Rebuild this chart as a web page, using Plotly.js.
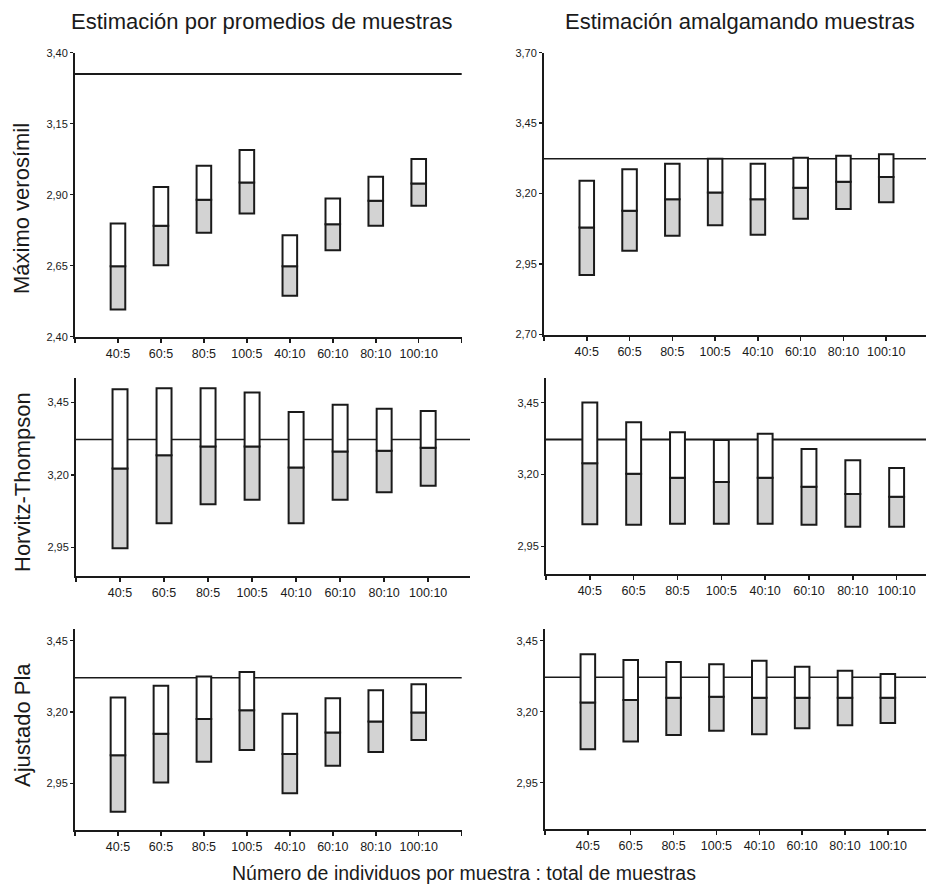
<!DOCTYPE html>
<html>
<head>
<meta charset="utf-8">
<script src="https://cdn.plot.ly/plotly-3.0.1.min.js"></script>
<style>
  html, body { margin: 0; padding: 0; background: #fff; }
  #chart { width: 926px; height: 886px; }
</style>
</head>
<body>
<div id="chart"></div>
<script>
// ---------- DATA ----------
const categories = ['40:5', '60:5', '80:5', '100:5', '40:10', '60:10', '80:10', '100:10'];

// Máximo verosímil – promedios de muestras
const mvPromMin = [2.496, 2.652, 2.766, 2.834, 2.544, 2.704, 2.791, 2.861];
const mvPromMed = [2.648, 2.791, 2.882, 2.943, 2.648, 2.796, 2.879, 2.939];
const mvPromMax = [2.799, 2.927, 3.002, 3.057, 2.757, 2.887, 2.963, 3.026];
// Máximo verosímil – amalgamando muestras
const mvAmalMin = [2.911, 2.997, 3.050, 3.088, 3.054, 3.111, 3.145, 3.169];
const mvAmalMed = [3.080, 3.139, 3.180, 3.204, 3.180, 3.221, 3.242, 3.259];
const mvAmalMax = [3.246, 3.286, 3.306, 3.324, 3.306, 3.327, 3.334, 3.340];
// Horvitz-Thompson – promedios
const htPromMin = [2.947, 3.033, 3.099, 3.114, 3.033, 3.114, 3.140, 3.163];
const htPromMed = [3.222, 3.268, 3.298, 3.298, 3.226, 3.281, 3.284, 3.294];
const htPromMax = [3.496, 3.500, 3.500, 3.485, 3.418, 3.443, 3.429, 3.421];
// Horvitz-Thompson – amalgamando
const htAmalMin = [3.027, 3.025, 3.029, 3.029, 3.029, 3.025, 3.018, 3.018];
const htAmalMed = [3.239, 3.203, 3.189, 3.174, 3.189, 3.158, 3.132, 3.123];
const htAmalMax = [3.451, 3.382, 3.347, 3.320, 3.342, 3.289, 3.250, 3.223];
// Ajustado Pla – promedios
const apPromMin = [2.850, 2.953, 3.025, 3.067, 2.915, 3.011, 3.060, 3.102];
const apPromMed = [3.048, 3.124, 3.175, 3.206, 3.053, 3.128, 3.167, 3.198];
const apPromMax = [3.251, 3.292, 3.324, 3.340, 3.194, 3.248, 3.276, 3.297];
// Ajustado Pla – amalgamando
const apAmalMin = [3.068, 3.095, 3.118, 3.133, 3.121, 3.142, 3.152, 3.160];
const apAmalMed = [3.232, 3.241, 3.249, 3.253, 3.249, 3.249, 3.249, 3.249];
const apAmalMax = [3.402, 3.382, 3.375, 3.367, 3.379, 3.358, 3.344, 3.333];

// true (reference) value per panel
const trueValue = [3.325, 3.324, 3.323, 3.322, 3.320, 3.321];

// y tick values per panel
const yTicks1 = [2.40, 2.65, 2.90, 3.15, 3.40];
const yTicks2 = [2.70, 2.95, 3.20, 3.45, 3.70];
const yTicks3 = [2.95, 3.20, 3.45];
const yTicks4 = [2.95, 3.20, 3.45];
const yTicks5 = [2.95, 3.20, 3.45];
const yTicks6 = [2.95, 3.20, 3.45];

const rowTitles = ['Máximo verosímil', 'Horvitz-Thompson', 'Ajustado Pla'];
const colTitles = ['Estimación por promedios de muestras', 'Estimación amalgamando muestras'];
const xTitle = 'Número de individuos por muestra : total de muestras';

// ---------- LAYOUT HELPERS ----------
const W = 926, H = 886;
const FONT = '"Liberation Sans", Arial, Helvetica, sans-serif';
const INK = '#1a1a1a';
const GREY = '#d3d3d3';

const panels = [
  {min: mvPromMin, med: mvPromMed, max: mvPromMax, yt: yTicks1, xr: [-1, 8],    yr: [2.40, 3.40],   px: [75, 461.7], py: [52.7, 336.7], lw: 2},
  {min: mvAmalMin, med: mvAmalMed, max: mvAmalMax, yt: yTicks2, xr: [-1, 7.93], yr: [2.70, 3.70],   px: [544, 926],  py: [52.7, 334.5], lw: 1.5},
  {min: htPromMin, med: htPromMed, max: htPromMax, yt: yTicks3, xr: [-1, 7.95], yr: [2.851, 3.534], px: [76, 470],   py: [378.3, 576], lw: 1.5},
  {min: htAmalMin, med: htAmalMed, max: htAmalMax, yt: yTicks4, xr: [-1, 7.67], yr: [2.854, 3.535], px: [546, 926],  py: [378.3, 574], lw: 2},
  {min: apPromMin, med: apPromMed, max: apPromMax, yt: yTicks5, xr: [-1, 8],    yr: [2.786, 3.49],  px: [75, 461.7], py: [629.3, 830], lw: 1.5},
  {min: apAmalMin, med: apAmalMed, max: apAmalMax, yt: yTicks6, xr: [-1, 7.89], yr: [2.786, 3.49],  px: [545, 926],  py: [629.3, 829.3], lw: 1.5}
];

const idx = categories.map((c, i) => i);
const data = [];
const layout = {
  width: W, height: H,
  margin: {l: 0, r: 0, t: 0, b: 0},
  paper_bgcolor: '#fff', plot_bgcolor: 'rgba(0,0,0,0)',
  showlegend: false,
  barmode: 'overlay',
  font: {family: FONT, color: INK, size: 11},
  shapes: [],
  annotations: []
};

panels.forEach((p, k) => {
  const n = k + 1;
  const xa = 'x' + (n === 1 ? '' : n);
  const ya = 'y' + (n === 1 ? '' : n);
  // lower (grey) part: min → median
  data.push({
    type: 'bar', x: idx, base: p.min,
    y: p.med.map((m, i) => m - p.min[i]),
    width: 0.34, xaxis: xa, yaxis: ya,
    marker: {color: GREY, line: {color: INK, width: 2}},
    hoverinfo: 'skip'
  });
  // upper (white) part: median → max
  data.push({
    type: 'bar', x: idx, base: p.med,
    y: p.max.map((m, i) => m - p.med[i]),
    width: 0.34, xaxis: xa, yaxis: ya,
    marker: {color: '#ffffff', line: {color: INK, width: 2}},
    hoverinfo: 'skip'
  });

  const xTickVals = [p.xr[0]].concat(idx);
  const xTickText = [''].concat(categories);
  if (p.xr[1] === 8) { xTickVals.push(8); xTickText.push(''); }

  const yTickVals = p.yt.slice();
  const yTickText = p.yt.map(v => v.toFixed(2).replace('.', ','));

  layout['xaxis' + (n === 1 ? '' : n)] = {
    domain: [p.px[0] / W, Math.min(1, p.px[1] / W)],
    range: p.xr, anchor: ya,
    showline: true, linecolor: INK, linewidth: 2,
    ticks: 'outside', ticklen: 4, tickwidth: 1.5, tickcolor: INK,
    tickvals: xTickVals, ticktext: xTickText,
    tickfont: {size: 12.5, color: INK, family: FONT},
    showgrid: false, zeroline: false, fixedrange: true
  };
  layout['yaxis' + (n === 1 ? '' : n)] = {
    domain: [1 - p.py[1] / H, 1 - p.py[0] / H],
    range: p.yr, anchor: xa,
    showline: true, linecolor: INK, linewidth: 2,
    ticks: 'outside', ticklen: 3, tickwidth: 1.5, tickcolor: INK,
    tickvals: yTickVals, ticktext: yTickText,
    tickfont: {size: 11, color: INK, family: FONT},
    showgrid: false, zeroline: false, fixedrange: true
  };
  // reference (true value) line
  layout.shapes.push({
    type: 'line', xref: xa + ' domain', yref: ya,
    x0: 0, x1: 1, y0: trueValue[k], y1: trueValue[k],
    line: {color: INK, width: p.lw}, layer: 'below'
  });
});

// column titles
layout.annotations.push(
  {text: colTitles[0], xref: 'paper', yref: 'paper', x: 262 / W, y: 1 - 22 / H,
   xanchor: 'center', yanchor: 'middle', showarrow: false, font: {size: 22, family: FONT, color: INK}},
  {text: colTitles[1], xref: 'paper', yref: 'paper', x: 740 / W, y: 1 - 22 / H,
   xanchor: 'center', yanchor: 'middle', showarrow: false, font: {size: 22, family: FONT, color: INK}}
);
// row titles
const rowCenters = [209, 482, 725];
rowTitles.forEach((t, i) => {
  layout.annotations.push({
    text: t, xref: 'paper', yref: 'paper', x: 22 / W, y: 1 - rowCenters[i] / H,
    xanchor: 'center', yanchor: 'middle', textangle: -90, showarrow: false,
    font: {size: 22, family: FONT, color: INK}
  });
});
// bottom title
layout.annotations.push({
  text: xTitle, xref: 'paper', yref: 'paper', x: 464 / W, y: 1 - 873 / H,
  xanchor: 'center', yanchor: 'middle', showarrow: false,
  font: {size: 19.5, family: FONT, color: INK}
});

Plotly.newPlot('chart', data, layout, {staticPlot: true, displayModeBar: false});
</script>
</body>
</html>
